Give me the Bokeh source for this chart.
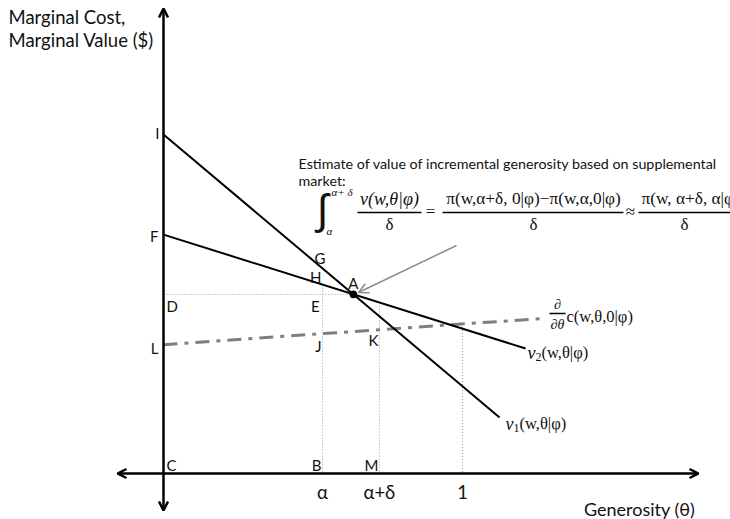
import numpy as np
from bokeh.plotting import figure
from bokeh.models import Range1d, Arrow, OpenHead, Label
from bokeh.embed import file_html
from bokeh.resources import INLINE

# ---- model values (generosity theta on x, dollars on y) ----
alpha = 0.532
alpha_delta = 0.722
theta_one = 1.0

v1_theta = [0.0, 1.124]
v1_value = [1.134, 0.187]
v2_theta = [0.0, 1.211]
v2_value = [0.799, 0.418]
mc_theta = [0.0, 1.261]
mc_value = [0.431, 0.518]
point_a = (0.635, 0.599)

tick_labels = ["α", "α+δ", "1"]
tick_positions = [alpha, alpha_delta, theta_one]


def on_line(xs, ys, t):
    return float(np.interp(t, xs, ys))


# ---- canvas: 299 px per unit on both axes, origin at (163, 473) ----
SCALE = 299.0
OX, OY = 163.0, 473.0
W, H = 730, 519


def tx(px):
    return (px - OX) / SCALE


def ty(py):
    return (OY - py) / SCALE


p = figure(width=W, height=H, output_backend="svg", toolbar_location=None,
           x_range=Range1d(tx(0), tx(W)), y_range=Range1d(ty(H), ty(0)),
           x_axis_type=None, y_axis_type=None, min_border=0,
           background_fill_color="white", border_fill_color="white")
p.outline_line_color = None
p.xgrid.visible = False
p.ygrid.visible = False

SANS = "Lato"
SERIF = "Liberation Serif"
DOT = dict(line_color="#9a9a9a", line_width=1, line_dash="1 2")

# ---- dotted guide lines ----
p.segment(x0=[0.0], y0=[point_a[1]], x1=[point_a[0]], y1=[point_a[1]], **DOT)
p.segment(x0=[alpha], y0=[on_line(v2_theta, v2_value, alpha)], x1=[alpha], y1=[0.0], **DOT)
p.segment(x0=[alpha_delta], y0=[on_line(v2_theta, v2_value, alpha_delta)],
          x1=[alpha_delta], y1=[0.0], **DOT)
p.segment(x0=[theta_one], y0=[on_line(mc_theta, mc_value, theta_one)],
          x1=[theta_one], y1=[0.0], **DOT)

# ---- marginal cost (dash-dot) and the two value curves ----
p.line(mc_theta, mc_value, line_color="#7f7f7f", line_width=3, line_dash="14 7 4 7")
p.line(v1_theta, v1_value, line_color="black", line_width=2)
p.line(v2_theta, v2_value, line_color="black", line_width=2)
p.scatter([point_a[0]], [point_a[1]], size=7, color="black")

# ---- axes with arrowheads at both ends ----
for (xs, ys, xe, ye) in [(0.0, ty(510), 0.0, ty(8)), (tx(117), 0.0, tx(698), 0.0)]:
    p.add_layout(Arrow(x_start=xs, y_start=ys, x_end=xe, y_end=ye,
                       line_color="black", line_width=2.5,
                       start=OpenHead(size=9, line_width=2.5, line_color="black"),
                       end=OpenHead(size=9, line_width=2.5, line_color="black")))

# pointer from the note to point A
p.add_layout(Arrow(x_start=tx(456), y_start=ty(245), x_end=tx(358), y_end=ty(292),
                   line_color="#8c8c8c", line_width=1.5,
                   end=OpenHead(size=10, line_width=1.5, line_color="#8c8c8c")))


def label(x, y, text, size=15, align="left", font=SANS, style="normal",
          dx=0, dy=0, color="#111111"):
    p.add_layout(Label(x=x, y=y, text=text, x_offset=dx, y_offset=dy,
                       text_align=align, text_baseline="middle",
                       text_font=font, text_font_size=f"{size}px",
                       text_font_style=style, text_color=color))


def plabel(px, py, text, **kw):
    label(tx(px), ty(py), text, **kw)


# ---- point letters ----
v1a = on_line(v1_theta, v1_value, alpha)
v2a = on_line(v2_theta, v2_value, alpha)
mca = on_line(mc_theta, mc_value, alpha)
mcad = on_line(mc_theta, mc_value, alpha_delta)
label(0.0, v1_value[0], "I", align="right", dx=-4, dy=1)
label(0.0, v2_value[0], "F", align="right", dx=-5, dy=-1)
label(alpha, v1a, "G", align="left", dx=-8, dy=10)
label(alpha, v2a, "H", align="right", dx=-1, dy=8)
label(point_a[0], point_a[1], "A", align="center", dx=0, dy=11)
label(0.0, point_a[1], "D", align="left", dx=3, dy=-12)
label(alpha, point_a[1], "E", align="right", dx=-3, dy=-12)
label(0.0, mc_value[0], "L", align="right", dx=-5, dy=-3)
label(alpha, mca, "J", align="right", dx=-1, dy=-12)
label(alpha_delta, mcad, "K", align="right", dx=-1, dy=-10)
label(0.0, 0.0, "C", align="left", dx=3, dy=9)
label(alpha, 0.0, "B", align="right", dx=-1, dy=9)
label(alpha_delta, 0.0, "M", align="right", dx=-1, dy=9)

for t, s in zip(tick_positions, tick_labels):
    label(t, 0.0, s, size=18.5, align="center", dy=-18)

# ---- axis titles ----
plabel(8, 16, "Marginal Cost,", size=18.5)
plabel(8, 39, "Marginal Value ($)", size=18.5)
plabel(694, 508, "Generosity (θ)", size=18, align="right")

# ---- curve labels ----
plabel(505, 423, "v", size=18, font=SERIF, style="italic")
plabel(513, 427, "1", size=12, font=SERIF)
plabel(519, 423, "(w,θ|φ)", size=16.5, font=SERIF)
plabel(527, 352, "v", size=18, font=SERIF, style="italic")
plabel(535, 356, "2", size=12, font=SERIF)
plabel(541, 352, "(w,θ|φ)", size=16.5, font=SERIF)
plabel(557, 304, "∂", size=14, font=SERIF, style="italic", align="center")
plabel(557, 324, "∂θ", size=14, font=SERIF, style="italic", align="center")
p.segment(x0=[tx(549)], y0=[ty(313)], x1=[tx(565)], y1=[ty(313)],
          line_color="black", line_width=1.5)
plabel(566, 316, "c(w,θ,0|φ)", size=16.5, font=SERIF)

# ---- note and supplemental-market formula ----
plabel(298, 163, "Estimate of value of incremental generosity based on supplemental", size=14.3)
plabel(298, 180, "market:", size=14.3)

plabel(322, 209, "∫", size=42, font="Liberation Sans", align="center")
plabel(331, 191, "α+ δ", size=11, font=SERIF, style="italic")
plabel(326, 230, "α", size=11, font=SERIF, style="italic")
plabel(389, 198, "v(w,θ|φ)", size=18, font=SERIF, style="italic", align="center")
plabel(389, 224, "δ", size=17, font=SERIF, align="center")
plabel(430, 211, "=", size=17, font=SERIF, align="center")
plabel(533, 198, "π(w,α+δ, 0|φ)−π(w,α,0|φ)", size=17.3, font=SERIF, align="center")
plabel(533, 224, "δ", size=17, font=SERIF, align="center")
plabel(630, 211, "≈", size=17, font=SERIF, align="center")
plabel(641, 198, "π(w, α+δ, α|φ)", size=17.3, font=SERIF)
plabel(684, 224, "δ", size=17, font=SERIF, align="center")
p.segment(x0=[tx(357), tx(442), tx(638)], y0=[ty(212)] * 3,
          x1=[tx(421), tx(623), tx(730)], y1=[ty(212)] * 3,
          line_color="black", line_width=1.5)

open("out.html", "w").write(file_html(p, INLINE))
